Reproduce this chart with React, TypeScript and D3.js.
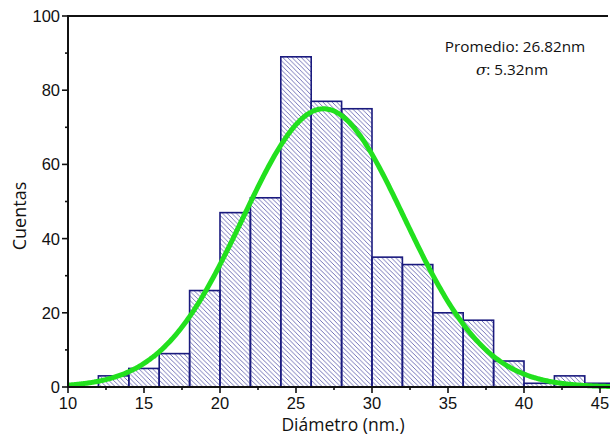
import React from "react";
import * as d3 from "d3";

const binStarts = [12, 14, 16, 18, 20, 22, 24, 26, 28, 30, 32, 34, 36, 38, 40, 42, 44];
const counts = [3, 5, 9, 26, 47, 51, 89, 77, 75, 35, 33, 20, 18, 7, 1, 3, 1];
const binWidth = 2;
const yTicks = [0, 20, 40, 60, 80, 100];
const xTicks = [10, 15, 20, 25, 30, 35, 40, 45];
const fitMean = 26.82;
const fitSigma = 5.32;

const W = 610;
const H = 439;

export default function App() {
  const x = d3.scaleLinear().domain([10, 45]).range([68, 600]);
  const y = d3.scaleLinear().domain([0, 100]).range([387, 16]);
  const total = d3.sum(counts);
  const peak = (total * binWidth) / (fitSigma * Math.sqrt(2 * Math.PI));
  const xs = d3.range(10, 46.01, 0.1);
  const fit = xs.map((v) => [v, peak * Math.exp(-((v - fitMean) ** 2) / (2 * fitSigma ** 2))] as [number, number]);
  const line = d3.line<[number, number]>().x((d) => x(d[0])).y((d) => y(d[1])).curve(d3.curveBasis);
  const minorY = d3.range(10, 100, 20);
  const minorX = d3.range(12.5, 46, 5);
  return (
    <svg width={W} height={H} style={{ position: "absolute", left: 0, top: 0, background: "#fff" }}>
      <defs>
        <pattern id="hatch" patternUnits="userSpaceOnUse" width={4.6} height={4.6}>
          <path d="M-1,-1 L5.6,5.6 M-5.6,-1 L1,5.6 M3.6,-1 L10.2,5.6" stroke="#6464b0" strokeWidth={0.9} />
        </pattern>
        <clipPath id="clip">
          <rect x={0} y={0} width={W} height={H} />
        </clipPath>
      </defs>
      <g clipPath="url(#clip)">
        {binStarts.map((b, i) => (
          <rect
            key={b}
            x={x(b)}
            y={y(counts[i])}
            width={x(b + binWidth) - x(b)}
            height={y(0) - y(counts[i])}
            fill="url(#hatch)"
            stroke="#1a1a7e"
            strokeWidth={1.6}
          />
        ))}
        <path d={line(fit) || ""} fill="none" stroke="#22e01e" strokeWidth={5} />
        <line x1={68} x2={608} y1={y(100)} y2={y(100)} stroke="#111" strokeWidth={2} />
        <line x1={68} x2={610} y1={y(0)} y2={y(0)} stroke="#111" strokeWidth={2} />
        <line x1={68} x2={68} y1={y(100) - 1} y2={y(0) + 1} stroke="#111" strokeWidth={2} />
        {yTicks.map((t) => (
          <g key={t}>
            <line x1={62} x2={68} y1={y(t)} y2={y(t)} stroke="#111" strokeWidth={1.6} />
            <text x={60} y={y(t)} dy="0.36em" textAnchor="end" fontFamily="Liberation Sans, Arial" fontSize={16.5} fill="#111">
              {t}
            </text>
          </g>
        ))}
        {minorY.map((t) => (
          <line key={t} x1={65} x2={68} y1={y(t)} y2={y(t)} stroke="#111" strokeWidth={1.6} />
        ))}
        {xTicks.map((t) => (
          <g key={t}>
            <line x1={x(t)} x2={x(t)} y1={y(0)} y2={y(0) + 6} stroke="#111" strokeWidth={1.6} />
            <text x={x(t)} y={409} textAnchor="middle" fontFamily="Liberation Sans, Arial" fontSize={16.5} fill="#111">
              {t}
            </text>
          </g>
        ))}
        {minorX.map((t) => (
          <line key={t} x1={x(t)} x2={x(t)} y1={y(0)} y2={y(0) + 3} stroke="#111" strokeWidth={1.6} />
        ))}
      </g>
      <text x={343} y={431} textAnchor="middle" fontFamily="Open Sans" fontSize={17.5} fill="#111">
        Diámetro (nm.)
      </text>
      <text
        transform={`translate(26,216) rotate(-90)`}
        textAnchor="middle"
        fontFamily="Open Sans"
        fontSize={18}
        fill="#111"
      >
        Cuentas
      </text>
      <text x={515} y={52} textAnchor="middle" fontFamily="Open Sans" fontSize={15.3} fill="#111">
        Promedio: 26.82nm
      </text>
      <text x={512} y={75} textAnchor="middle" fontFamily="Open Sans" fontSize={15.3} fill="#111">
        <tspan fontStyle="italic" fontFamily="DejaVu Serif">σ</tspan>: 5.32nm
      </text>
    </svg>
  );
}
